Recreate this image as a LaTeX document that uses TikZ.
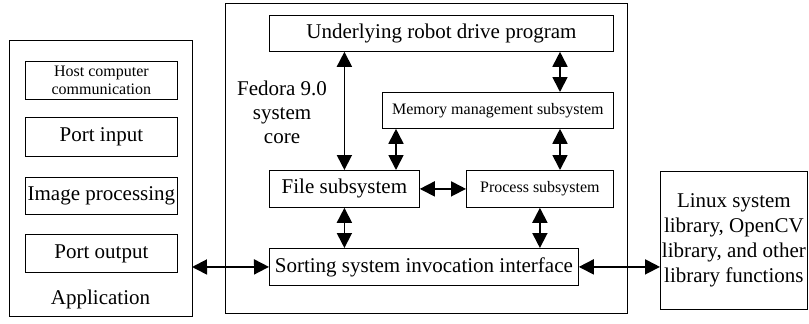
\documentclass[tikz,border=0pt]{standalone}
\usepackage{fontspec}
\setmainfont{Liberation Serif}
\newfontfamily\timesfont{Liberation Serif}
\usetikzlibrary{arrows.meta}

\tikzset{
  box/.style={draw, line width=0.8pt, inner sep=0pt, align=center, anchor=north west, font=\timesfont\fontsize{21}{25}\selectfont},
  smallbox/.style={box, font=\timesfont\fontsize{16}{18}\selectfont},
  biarrow/.style={{Triangle[length=15pt,width=15pt]}-{Triangle[length=15pt,width=15pt]}, line width=1.8pt}
}

\begin{document}
\begin{tikzpicture}[x=1pt,y=1pt,yscale=-1,xscale=1]
\useasboundingbox (0,0) rectangle (809,324);

% outer frames
\draw [line width=0.8pt] (9,40) rectangle (192,316);
\draw [line width=0.8pt] (225,3) rectangle (627,313);

% Application blocks
\node [smallbox, minimum width=152, minimum height=38] (host) at (25,61) {Host computer\\communication};
\node [box, minimum width=152, minimum height=39] (portin) at (25,117) {Port input};
\node [box, minimum width=152, minimum height=37] (image) at (25,177) {Image processing};
\node [box, minimum width=152, minimum height=38] (portout) at (25,234) {Port output};
\node [font=\timesfont\fontsize{21}{25}\selectfont] (app) at (100.5,299) {Application};
\coordinate (appeast) at (192,267);

% System core blocks
\node [box, minimum width=344, minimum height=36] (drive) at (269,15) {Underlying robot drive program};
\node [smallbox, minimum width=231, minimum height=36] (memory) at (382,92) {Memory management subsystem};
\node [box, minimum width=150, minimum height=37] (file) at (269,170) {File subsystem};
\node [smallbox, minimum width=147, minimum height=37] (process) at (466,170) {Process subsystem};
\node [box, minimum width=309, minimum height=37] (sorting) at (269,248) {Sorting system invocation interface};
\node [align=center, font=\timesfont\fontsize{21}{24}\selectfont] (fedora) at (282,112) {Fedora 9.0\\system\\core};

% Libraries
\node [box, minimum width=147, minimum height=138] (linux) at (660,171) {Linux system\\library, OpenCV\\library, and other\\library functions};

% Arrows
\coordinate (rx) at (560,0);
\coordinate (mx) at (396,0);
\draw [biarrow] (drive.south -| file.north) -- (file.north);
\draw [biarrow] (drive.south -| rx) -- (memory.north -| rx);
\draw [biarrow] (memory.south -| rx) -- (process.north -| rx);
\draw [biarrow] (memory.south -| mx) -- (file.north -| mx);
\draw [biarrow] (file.east) -- (process.west);
\draw [biarrow] (file.south) -- (sorting.north -| file.south);
\draw [biarrow] (process.south) -- (sorting.north -| process.south);
\draw [biarrow] (appeast) -- (sorting.west);
\draw [biarrow] (sorting.east) -- (sorting.east -| linux.west);
\end{tikzpicture}
\end{document}
